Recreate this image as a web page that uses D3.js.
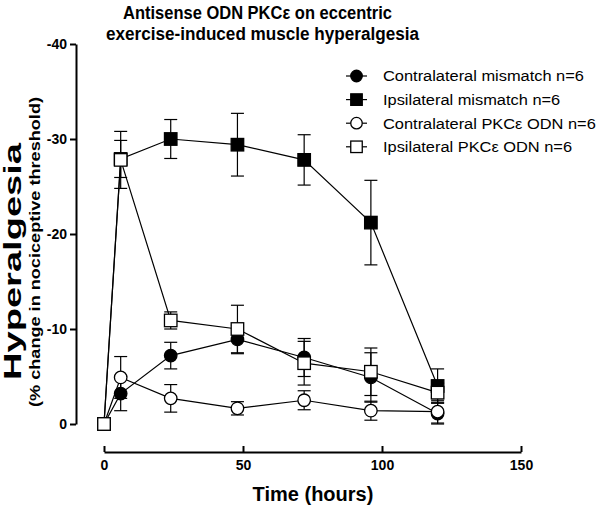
<!DOCTYPE html>
<html>
<head>
<meta charset="utf-8">
<script src="https://cdn.jsdelivr.net/npm/d3@7"></script>
<style>
  html, body { margin: 0; padding: 0; background: #fff; }
  svg { display: block; font-family: "Liberation Sans", Arial, sans-serif; }
</style>
</head>
<body>
<svg id="chart" width="600" height="508"></svg>
<script>
const times = [0, 6, 24, 48, 72, 96, 120];
const contraMismatch = [0, -3.2, -7.2, -8.9, -7.0, -4.9, -1.1];
const contraMismatchSem = [0, 1.8, 1.4, 1.5, 2.0, 2.6, 1.1];
const ipsiMismatch = [0, -27.9, -30.0, -29.4, -27.8, -21.2, -4.0];
const ipsiMismatchSem = [0, 1.95, 2.05, 3.3, 2.65, 4.45, 1.8];
const contraPKC = [0, -4.9, -2.7, -1.65, -2.5, -1.4, -1.3];
const contraPKCSem = [0, 2.2, 1.45, 0.7, 1.0, 1.0, 1.2];
const ipsiPKC = [0, -27.8, -10.9, -10.0, -6.4, -5.5, -3.3];
const ipsiPKCSem = [0, 3.0, 0.9, 2.5, 2.3, 2.5, 1.0];
const seriesNames = ["Contralateral mismatch n=6", "Ipsilateral mismatch n=6", "Contralateral PKC\u03b5 ODN n=6", "Ipsilateral PKC\u03b5 ODN n=6"];
const xTicks = [0, 50, 100, 150];
const yTicks = [-40, -30, -20, -10, 0];

const series = [
  { name: seriesNames[0], values: contraMismatch, sem: contraMismatchSem, shape: "circle", fill: "#000" },
  { name: seriesNames[1], values: ipsiMismatch, sem: ipsiMismatchSem, shape: "square", fill: "#000" },
  { name: seriesNames[2], values: contraPKC, sem: contraPKCSem, shape: "circle", fill: "#fff" },
  { name: seriesNames[3], values: ipsiPKC, sem: ipsiPKCSem, shape: "square", fill: "#fff" }
];

const svg = d3.select("#chart");
const x = d3.scaleLinear().domain([0, 150]).range([104, 521]);
const y = d3.scaleLinear().domain([0, -40]).range([424, 44]);

// axes
const xAxis = svg.append("g").attr("transform", "translate(0,452)")
  .call(d3.axisBottom(x).tickValues(xTicks).tickFormat(d => String(d)).tickSize(6).tickSizeOuter(0).tickPadding(4));
const yAxis = svg.append("g").attr("transform", "translate(76,0)")
  .call(d3.axisLeft(y).tickValues(yTicks).tickFormat(d => String(d)).tickSize(6).tickSizeOuter(0).tickPadding(3));
[xAxis, yAxis].forEach(a => {
  a.select(".domain").attr("stroke", "#000").attr("stroke-width", 2);
  a.selectAll(".tick line").attr("stroke", "#000").attr("stroke-width", 2);
  a.selectAll(".tick text").attr("fill", "#000").style("font-size", "14px").style("font-weight", "bold")
    .style("font-family", "'Liberation Sans', Arial, sans-serif");
});
xAxis.selectAll(".tick line").attr("y2", -6);
xAxis.selectAll(".tick text").attr("y", 8);
yAxis.selectAll(".tick text").attr("dy", "0.35em");

// lines
const line = d3.line().x((d, i) => x(times[i])).y(d => y(d));
const markerSize = 12.5;

function drawMarker(g, shape, fill, cx, cy, size) {
  if (shape === "circle") {
    g.append("circle").attr("cx", cx).attr("cy", cy).attr("r", size / 2)
      .attr("fill", fill).attr("stroke", "#000").attr("stroke-width", 1.3);
  } else {
    g.append("rect").attr("x", cx - size / 2).attr("y", cy - size / 2)
      .attr("width", size).attr("height", size)
      .attr("fill", fill).attr("stroke", "#000").attr("stroke-width", 1.3);
  }
}

const plot = svg.append("g");
series.forEach(s => {
  const g = plot.append("g");
  g.append("path").datum(s.values).attr("d", line)
    .attr("fill", "none").attr("stroke", "#000").attr("stroke-width", 1.2);
  s.values.forEach((v, i) => {
    if (s.sem[i] > 0) {
      const cx = x(times[i]);
      const y1 = y(v - s.sem[i]), y2 = y(v + s.sem[i]);
      g.append("line").attr("x1", cx).attr("x2", cx).attr("y1", y1).attr("y2", y2)
        .attr("stroke", "#000").attr("stroke-width", 1.2);
      [y1, y2].forEach(yy => g.append("line").attr("x1", cx - 6.5).attr("x2", cx + 6.5)
        .attr("y1", yy).attr("y2", yy).attr("stroke", "#000").attr("stroke-width", 1.2));
    }
  });
  s.values.forEach((v, i) => drawMarker(g, s.shape, s.fill, x(times[i]), y(v), markerSize));
});

// legend
const legend = svg.append("g");
series.forEach((s, i) => {
  const ly = 76 + i * 23.6;
  legend.append("line").attr("x1", 346).attr("x2", 367).attr("y1", ly).attr("y2", ly)
    .attr("stroke", "#000").attr("stroke-width", 1.2);
  drawMarker(legend, s.shape, s.fill, 356.5, ly, 11.5);
  const t = legend.append("text").attr("transform", `translate(383,${ly})`).attr("dy", "0.36em")
    .style("font-size", "15.2px").attr("fill", "#000").text(s.name);
  const w = t.node().getComputedTextLength();
  const sx = Math.min(1.08, 213 / w);
  t.attr("transform", `translate(383,${ly}) scale(${sx},1)`);
});

// title
svg.append("text").attr("x", 257.5).attr("y", 18.5).attr("text-anchor", "middle")
  .attr("textLength", 269).attr("lengthAdjust", "spacingAndGlyphs")
  .style("font-size", "18px").style("font-weight", "bold").text("Antisense ODN PKC\u03b5 on eccentric");
svg.append("text").attr("x", 262.5).attr("y", 39.5).attr("text-anchor", "middle")
  .attr("textLength", 313).attr("lengthAdjust", "spacingAndGlyphs")
  .style("font-size", "18px").style("font-weight", "bold").text("exercise-induced muscle hyperalgesia");

// axis titles
svg.append("text").attr("x", 313).attr("y", 501).attr("text-anchor", "middle")
  .style("font-size", "20px").style("font-weight", "bold").text("Time (hours)");
svg.append("text").attr("transform", "translate(20.5,261.5) rotate(-90)").attr("text-anchor", "middle")
  .attr("textLength", 237).attr("lengthAdjust", "spacingAndGlyphs")
  .style("font-size", "23.5px").style("font-weight", "bold").text("Hyperalgesia");
svg.append("text").attr("transform", "translate(39.5,252) rotate(-90)").attr("text-anchor", "middle")
  .attr("textLength", 310).attr("lengthAdjust", "spacingAndGlyphs")
  .style("font-size", "15px").style("font-weight", "bold").text("(% change in nociceptive threshold)");
</script>
</body>
</html>
